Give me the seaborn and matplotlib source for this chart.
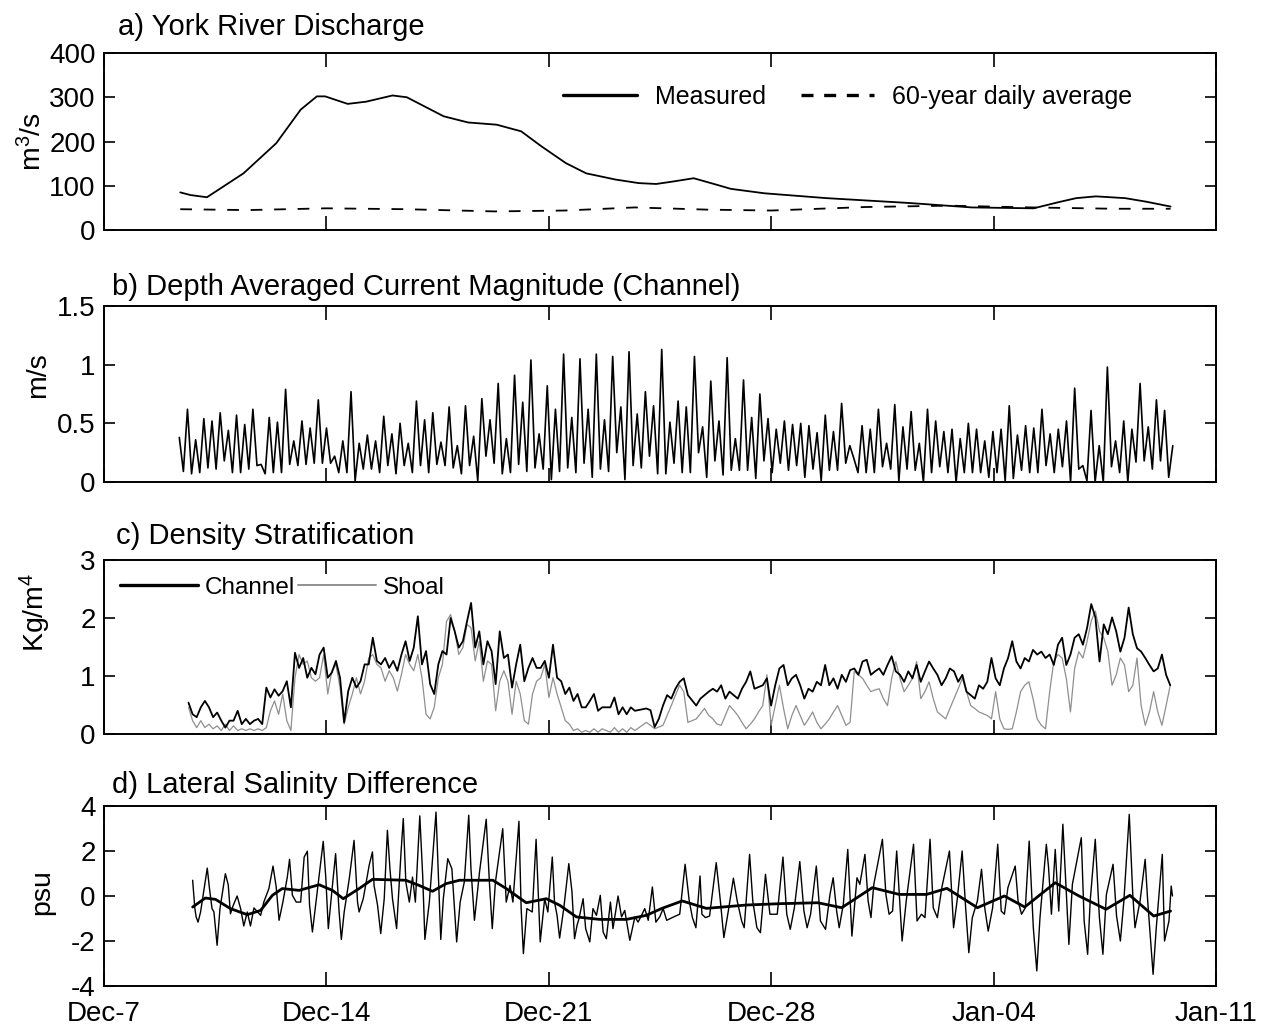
import numpy as np
import pandas as pd
import matplotlib
matplotlib.use("Agg")
import matplotlib.pyplot as plt
from matplotlib.lines import Line2D
import seaborn as sns

sns.set_theme(style="ticks", rc={
    "axes.edgecolor": "black", "xtick.color": "black", "ytick.color": "black",
    "text.color": "black", "axes.labelcolor": "black", "axes.linewidth": 1.4,
})
plt.rcParams["font.family"] = ["Liberation Sans", "DejaVu Sans"]
plt.rcParams["mathtext.fontset"] = "custom"
plt.rcParams["mathtext.rm"] = "Liberation Sans"
plt.rcParams["mathtext.it"] = "Liberation Sans:italic"
plt.rcParams["mathtext.bf"] = "Liberation Sans:bold"

# ---- time axis: days since Dec-7 ----
week_days = [0, 7, 14, 21, 28, 35]
week_labels = ["Dec-7", "Dec-14", "Dec-21", "Dec-28", "Jan-04", "Jan-11"]

# ---- a) York River discharge (m3/s) ----
q_day = [2.40, 2.72, 3.24, 4.39, 5.42, 6.19, 6.70, 6.96, 7.67, 8.25, 9.08, 9.53,
         10.69, 11.46, 12.36, 13.13, 13.77, 14.54, 15.18, 16.10, 16.83, 17.38,
         17.95, 18.56, 19.15, 19.73, 20.78, 22.74, 25.35, 27.31, 28.30, 29.26,
         30.05, 30.60, 31.22, 32.14, 32.80, 33.57]
q_measured = [85, 79, 74, 128, 196, 272, 302, 302, 285, 290, 304, 300,
              257, 243, 238, 223, 189, 151, 128, 114, 106, 104,
              110, 117, 105, 93, 83, 72, 61, 51, 50, 49,
              63, 72, 76, 72, 64, 53]
q_avg_day = [2.40, 4.5, 7.0, 9.5, 12.3, 14.5, 16.7, 19.0, 21.0, 24.0, 26.6,
             29.2, 31.8, 33.57]
q_average = [47, 45, 49, 47, 42, 44, 51, 46, 44, 52, 55, 51, 48, 48]

# ---- b) depth averaged current magnitude, channel (m/s), successive extrema ----
b_first_day, b_last_day = 2.37, 33.64
b_speed = [
    0.38, 0.09, 0.62, 0.07, 0.36, 0.08, 0.54, 0.12, 0.52, 0.11,
    0.59, 0.18, 0.44, 0.08, 0.57, 0.08, 0.49, 0.11, 0.62, 0.14,
    0.15, 0.07, 0.55, 0.08, 0.51, 0.08, 0.79, 0.15, 0.35, 0.14,
    0.52, 0.15, 0.46, 0.16, 0.70, 0.16, 0.46, 0.16, 0.22, 0.08,
    0.35, 0.08, 0.77, 0.01, 0.33, 0.11, 0.40, 0.11, 0.35, 0.08,
    0.56, 0.14, 0.41, 0.07, 0.50, 0.14, 0.33, 0.08, 0.69, 0.14,
    0.53, 0.08, 0.59, 0.15, 0.34, 0.14, 0.64, 0.12, 0.31, 0.07,
    0.65, 0.14, 0.39, 0.01, 0.71, 0.22, 0.53, 0.16, 0.84, 0.07,
    0.37, 0.08, 0.91, 0.15, 0.68, 0.09, 1.04, 0.12, 0.41, 0.11,
    0.82, 0.02, 0.62, 0.09, 1.09, 0.12, 0.55, 0.08, 1.05, 0.16,
    0.62, 0.04, 1.09, 0.11, 0.53, 0.09, 1.07, 0.25, 0.64, 0.02,
    1.11, 0.14, 0.58, 0.12, 0.77, 0.22, 0.65, 0.07, 1.13,
    0.07, 0.51, 0.16, 0.69, 0.08, 0.64, 0.08, 1.07, 0.25, 0.47,
    0.04, 0.86, 0.18, 0.52, 0.06, 1.06, 0.10, 0.37, 0.10, 0.87,
    0.10, 0.55, 0.03, 0.75, 0.18, 0.54, 0.08, 0.45, 0.16, 0.52,
    0.10, 0.49, 0.14, 0.50, 0.04, 0.48, 0.11, 0.42, 0.01, 0.57,
    0.10, 0.43, 0.10, 0.67, 0.16, 0.31, 0.20, 0.08, 0.48, 0.08,
    0.45, 0.08, 0.62, 0.13, 0.33, 0.11, 0.66, 0.01, 0.47, 0.11,
    0.60, 0.10, 0.33, 0.00, 0.62, 0.08, 0.52, 0.13, 0.43, 0.08,
    0.45, 0.00, 0.37, 0.08, 0.50, 0.08, 0.45, 0.08, 0.35, 0.04,
    0.43, 0.08, 0.45, 0.01, 0.65, 0.03, 0.40, 0.10, 0.48, 0.08,
    0.46, 0.08, 0.62, 0.14, 0.41, 0.08, 0.45, 0.13, 0.52, 0.00,
    0.80, 0.11, 0.14, 0.01, 0.61, 0.00, 0.31, 0.00, 0.98, 0.13,
    0.35, 0.08, 0.52, 0.00, 0.45, 0.17, 0.84, 0.18, 0.47, 0.11,
    0.70, 0.18, 0.61, 0.04, 0.31,
]

# ---- c) density stratification (kg/m4), two sampling blocks ----
c_block1 = (2.66, 16.71)
c_block2 = (17.07, 33.56)
c_channel_1 = [
    0.54, 0.34, 0.29, 0.46, 0.57, 0.46, 0.29, 0.37, 0.23, 0.11,
    0.23, 0.23, 0.40, 0.17, 0.26, 0.17, 0.23, 0.26, 0.17, 0.80,
    0.63, 0.77, 0.66, 0.74, 0.91, 0.46, 1.40, 1.14, 1.31, 0.97,
    1.14, 1.03, 1.37, 1.49, 0.97, 1.06, 1.26, 0.97, 0.20, 0.74,
    0.97, 0.80, 0.91, 1.20, 1.20, 1.66, 1.26, 1.20, 1.31, 1.14,
    1.26, 1.09, 1.37, 1.60, 1.26, 1.49, 2.03, 1.20, 1.43, 0.86,
    0.69, 1.20, 1.43, 1.37, 2.00, 1.77, 1.49, 1.60, 1.94, 2.26,
    1.49, 1.77, 1.20, 1.60, 1.43, 0.86, 1.77, 1.31, 1.37, 0.80,
    1.20, 1.54, 0.91, 1.14, 1.31, 1.14, 1.14, 1.26, 0.97, 1.54,
    0.97, 0.91, 0.69, 0.80, 0.57, 0.69, 0.46, 0.46, 0.57, 0.69,
    0.40, 0.46, 0.46, 0.46, 0.63, 0.34, 0.46, 0.34, 0.46, 0.40,
]
c_shoal_1 = [
    0.46, 0.23, 0.11, 0.23, 0.11, 0.17, 0.09, 0.14, 0.06, 0.17,
    0.06, 0.14, 0.06, 0.09, 0.06, 0.09, 0.06, 0.09, 0.06, 0.11,
    0.40, 0.57, 0.34, 0.69, 0.23, 0.06, 0.97, 1.37, 1.20, 1.26,
    0.97, 0.91, 0.97, 1.37, 0.69, 1.09, 1.20, 0.80, 0.17, 0.46,
    0.69, 0.97, 0.69, 0.91, 1.31, 1.37, 1.20, 1.14, 0.91, 1.09,
    0.97, 0.74, 1.03, 1.37, 1.20, 1.09, 1.37, 0.97, 0.34, 0.26,
    0.46, 0.97, 1.20, 1.94, 2.06, 1.77, 1.37, 1.49, 1.89, 1.83,
    1.26, 1.60, 0.91, 1.26, 1.20, 0.40, 0.91, 1.09, 0.91, 0.34,
    0.91, 0.69, 0.23, 0.17, 0.69, 0.91, 0.97, 1.20, 0.63, 0.97,
    0.69, 0.46, 0.23, 0.17, 0.06, 0.09, 0.03, 0.06, 0.03, 0.09,
    0.03, 0.09, 0.06, 0.03, 0.11, 0.03, 0.09, 0.03, 0.11, 0.06,
]
c_channel_2 = [
    0.44, 0.41, 0.12, 0.26, 0.49, 0.67, 0.61, 0.78, 0.90, 0.96,
    0.67, 0.58, 0.49, 0.61, 0.67, 0.73, 0.78, 0.73, 0.84, 0.61,
    0.73, 0.67, 0.61, 0.78, 0.90, 1.08, 0.78, 0.81, 0.84, 0.96,
    0.49, 0.84, 1.13, 1.19, 0.84, 0.96, 1.02, 0.84, 0.61, 0.78,
    0.73, 0.90, 0.84, 1.19, 0.84, 0.96, 0.78, 1.02, 0.90, 1.10,
    1.13, 1.02, 1.25, 1.28, 1.02, 1.08, 1.13, 1.02, 1.19, 1.34,
    1.08, 1.02, 0.90, 1.08, 0.96, 1.19, 0.90, 1.08, 1.25, 1.13,
    1.02, 0.84, 0.96, 1.13, 1.08, 0.90, 1.02, 0.73, 0.67, 0.61,
    0.84, 0.78, 0.90, 1.31, 0.96, 0.84, 1.13, 1.31, 1.60, 1.25,
    1.13, 1.31, 1.25, 1.45, 1.37, 1.42, 1.31, 1.37, 1.19, 1.54,
    1.66, 1.19, 1.37, 1.66, 1.72, 1.54, 1.83, 2.24, 2.01, 1.25,
    1.89, 1.72, 2.01, 1.77, 1.42, 1.66, 2.18, 1.72, 1.48, 1.42,
    1.31, 1.19, 1.08, 1.13, 1.37, 1.02, 0.84,
]
c_shoal_2 = [
    0.20, 0.15, 0.09, 0.12, 0.15, 0.32, 0.49, 0.67, 0.84, 0.73,
    0.20, 0.23, 0.26, 0.35, 0.44, 0.32, 0.26, 0.17, 0.15, 0.32,
    0.49, 0.41, 0.32, 0.20, 0.09, 0.17, 0.26, 0.38, 0.49, 1.02,
    0.15, 0.49, 0.84, 0.44, 0.09, 0.32, 0.49, 0.32, 0.15, 0.26,
    0.38, 0.20, 0.09, 0.17, 0.26, 0.38, 0.49, 0.32, 0.15, 0.20,
    1.08, 1.02, 0.96, 0.84, 0.73, 0.76, 0.78, 0.61, 0.49, 0.96,
    1.25, 0.96, 0.73, 0.84, 0.96, 1.25, 0.61, 0.73, 0.90, 0.61,
    0.38, 0.32, 0.26, 0.44, 0.61, 0.78, 0.96, 0.73, 0.49, 0.44,
    0.38, 0.35, 0.32, 0.26, 0.73, 0.26, 0.09, 0.08, 0.09, 0.38,
    0.73, 0.84, 0.90, 0.61, 0.26, 0.15, 0.09, 0.73, 1.25, 1.37,
    1.31, 0.96, 0.38, 1.13, 1.42, 1.31, 1.60, 1.95, 2.12, 1.77,
    1.66, 1.42, 0.84, 1.02, 1.31, 1.19, 0.73, 0.84, 1.31, 0.49,
    0.15, 0.38, 0.73, 0.38, 0.15, 0.49, 0.84,
]

# ---- d) lateral salinity difference (psu) ----
d_day = [
    2.79, 2.86, 2.90, 2.96, 3.04, 3.25, 3.32, 3.40, 3.46, 3.56, 3.65, 3.82, 3.91,
    3.98, 4.07, 4.19, 4.30, 4.40, 4.51, 4.61, 4.72, 4.79, 4.93, 5.03, 5.19, 5.32,
    5.42, 5.51, 5.63, 5.77, 5.84, 5.93, 6.05, 6.19, 6.30, 6.40, 6.47, 6.56, 6.66,
    6.82, 6.90, 6.98, 7.06, 7.19, 7.29, 7.40, 7.47, 7.56, 7.72, 7.87, 7.98, 8.03,
    8.16, 8.35, 8.45, 8.50, 8.61, 8.71, 8.82, 8.92, 9.00, 9.08, 9.21, 9.35, 9.42,
    9.50, 9.61, 9.71, 9.80, 9.94, 10.03, 10.10, 10.24, 10.45, 10.53, 10.60, 10.68,
    10.82, 10.95, 11.10, 11.21, 11.34, 11.48, 11.55, 11.66, 11.82, 12.03, 12.13,
    12.22, 12.32, 12.55, 12.66, 12.78, 12.87, 13.06, 13.13, 13.20, 13.31, 13.48,
    13.60, 13.69, 13.73, 13.87, 13.97, 14.11, 14.18, 14.26, 14.34, 14.47, 14.63,
    14.73, 14.81, 14.89, 14.95, 15.08, 15.16, 15.29, 15.39, 15.50, 15.62, 15.71,
    15.81, 15.94, 16.02, 16.18, 16.29, 16.39, 16.55, 16.71, 16.81, 16.92, 17.02,
    17.13, 17.26, 17.37, 17.49, 17.60, 17.71,
    17.99, 18.12, 18.29, 18.42, 18.52, 18.63, 18.76, 18.82, 18.93, 19.06, 19.27,
    19.40, 19.51, 19.65, 19.81, 19.93, 20.07, 20.15, 20.32, 20.42, 20.55, 20.66,
    20.82, 20.96, 21.09, 21.19, 21.37, 21.49, 21.60, 21.73, 21.90, 22.03, 22.13,
    22.24, 22.42, 22.55, 22.71, 22.85, 22.95, 23.06, 23.14, 23.27, 23.41, 23.54,
    23.70, 23.79, 23.95, 24.05, 24.14, 24.23, 24.50, 24.61, 24.71, 24.82, 24.95,
    25.12, 25.25, 25.48, 25.59, 25.73, 25.84, 26.00, 26.10, 26.23, 26.37, 26.61,
    26.74, 26.85, 27.01, 27.12, 27.22, 27.33, 27.49, 27.62, 27.72, 27.83, 27.97,
    28.13, 28.24, 28.34, 28.45, 28.68, 28.77, 28.88, 29.00, 29.12, 29.25, 29.36,
    29.46, 29.66, 29.73, 29.82, 29.94, 30.05, 30.18, 30.26, 30.37, 30.48, 30.76,
    30.85, 30.96, 31.04, 31.20, 31.33, 31.44, 31.55, 31.76, 31.87, 31.99, 32.10,
    32.27, 32.38, 32.45, 32.61, 32.77, 32.85, 33.02, 33.12, 33.31, 33.38, 33.52,
    33.59, 33.63,
]
d_salinity = [
    0.70, -0.56, -0.93, -1.16, -0.71, 1.24, 0.33, -0.56, -0.71, -2.19, -0.56, 0.99, 0.50,
    -0.79, -0.41, 0.00, -0.56, -1.33, -0.71, -1.33, -0.53, -0.64, -0.86, -0.27, 0.33, 1.33,
    0.40, -1.08, -0.27, 0.84, 1.63, 0.03, -0.27, -0.27, 1.73, 1.99, -0.41, -1.60, -0.41,
    1.51, 2.43, 0.84, -1.45, 0.47, 1.88, -0.71, -1.93, -0.71, 0.77, 2.47, -0.27, -0.71,
    -0.12, 1.39, 1.96, 0.47, -0.41, -1.67, -0.12, 2.92, 1.21, -0.12, -1.45, 1.96, 3.44,
    0.62, -0.27, 0.84, -0.27, 3.56, 0.92, -1.93, -0.27, 3.73, 0.77, -1.93, -0.12,
    1.66, 1.21, -2.04, -0.27, 0.62, 3.59, 1.21, -1.08, 1.07, 3.41, 0.62,
    -1.45, 0.62, 2.99, -0.27, 0.47, -0.27, 3.32, -0.56, -2.56, -0.56, -0.71,
    2.52, -0.71, -2.04, -0.12, -0.71, 1.73, -0.27, -0.86, -1.87, -0.56, 1.44,
    0.18, -1.90, -1.30, -1.01, -0.12, -1.45, -2.04, -0.56, -0.86, 0.03, -1.60,
    -1.90, -0.27, -1.45, 0.00, -0.93, -0.64, -1.97, -0.93, -1.16, -0.86, -0.56,
    -1.08, 0.40, -1.16, -0.93, -0.56, -1.08,
    -0.89, -0.81, 1.41, -0.22, -0.96, -1.41, 0.89, -0.81, -0.96, -0.89, 1.48,
    -0.22, -1.85, -0.67, 0.79, -0.22, -1.11, -1.41, 1.85, -0.22, -1.41, -1.63,
    0.96, -0.81, -0.81, -0.81, 1.73, -0.81, -1.48, -0.52, 1.53, -0.67, -1.41,
    -0.81, 1.33, -1.11, -1.48, 0.07, 0.81, -0.67, -1.41, -0.37, 2.07, -1.78,
    0.81, 0.52, 1.85, -0.22, -0.96, 0.52, 2.52, 0.07, -0.81, -0.67, 2.00,
    -2.00, -0.22, 2.30, -1.11, -0.81, -0.96, 2.52, -0.52, -0.96, 0.37, 2.00,
    -1.41, -0.22, 2.00, -0.52, -2.52, -0.96, -0.22, 1.19, -0.52, -1.56, -0.52,
    2.30, -0.67, -0.81, 0.37, 1.33, -0.22, -0.81, -0.52, 2.44, -1.41, -3.33,
    -0.96, 2.30, 1.26, -0.81, 2.07, -0.67, 3.19, 0.96, -2.15, 0.52, 2.59,
    -1.11, -2.59, -0.22, 2.52, -0.96, -2.59, 0.07, 1.41, -0.89, -2.00, -0.22,
    3.63, 0.07, -1.41, -0.22, 1.63, -0.22, -3.48, -1.41, 1.85, -2.00, -1.11,
    0.44, 0.00,
]
d_lowpass_day = [2.79, 3.19, 3.51, 3.98, 4.51, 4.93, 5.30, 5.61, 6.14, 6.77, 7.19,
                 7.53, 8.03, 8.45, 9.50, 9.92, 10.34, 10.77, 11.19, 12.24, 12.66,
                 13.29, 13.92, 14.34, 14.87, 15.60, 16.44, 17.07, 17.56, 18.20,
                 18.96, 20.23, 21.30, 22.47, 23.22, 24.18, 25.03, 25.89, 26.53,
                 27.49, 28.34, 28.98, 29.94, 30.69, 31.54, 32.29, 33.04, 33.57]
d_lowpass = [-0.49, -0.09, -0.15, -0.56, -0.83, -0.64, 0.03, 0.33, 0.25, 0.50, 0.25,
             -0.12, 0.33, 0.74, 0.70, 0.47, 0.21, 0.55, 0.70, 0.70, 0.33,
             -0.30, -0.12, -0.41, -0.93, -1.04, -1.04, -0.86, -0.55, -0.22,
             -0.55, -0.40, -0.34, -0.30, -0.52, 0.37, 0.07, 0.07, 0.34,
             -0.52, 0.00, -0.49, 0.59, 0.00, -0.59, 0.03, -0.89, -0.67]

# ---- assemble tidy frames ----
b_day = np.linspace(b_first_day, b_last_day, len(b_speed))
c_day = np.concatenate([np.linspace(*c_block1, len(c_channel_1)),
                        np.linspace(*c_block2, len(c_channel_2))])
df_c = pd.DataFrame({"day": c_day,
                     "Channel": c_channel_1 + c_channel_2,
                     "Shoal": c_shoal_1 + c_shoal_2})

FS = 20
W, H = 1271, 1027
fig = plt.figure(figsize=(W / 100, H / 100), dpi=100)


def rect(top, bottom, left=104, right=1216):
    return [left / W, 1 - bottom / H, (right - left) / W, (bottom - top) / H]


ax_a = fig.add_axes(rect(53, 230))
ax_b = fig.add_axes(rect(306, 482))
ax_c = fig.add_axes(rect(560, 734))
ax_d = fig.add_axes(rect(806, 986))

# a) discharge
sns.lineplot(x=q_day, y=q_measured, ax=ax_a, color="black", linewidth=1.3,
             estimator=None, sort=False)
sns.lineplot(x=q_avg_day, y=q_average, ax=ax_a, color="black", linewidth=1.3,
             estimator=None, sort=False, dashes=False)
ax_a.lines[-1].set_dashes((6.5, 6.5))
h_meas = Line2D([], [], color="black", linewidth=2.4)
h_avg = Line2D([], [], color="black", linewidth=2.4, dashes=(3.6, 3.2))
ax_a.legend([h_meas, h_avg], ["Measured", "60-year daily average"],
            loc="center left", bbox_to_anchor=(0.413, 0.752), ncol=2,
            frameon=False, fontsize=18, handlelength=2.95, handletextpad=0.7,
            columnspacing=1.4, borderpad=0, borderaxespad=0)

# b) current magnitude
sns.lineplot(x=b_day, y=b_speed, ax=ax_b, color="black", linewidth=1.2,
             estimator=None, sort=False)

# c) stratification
sns.lineplot(data=df_c, x="day", y="Shoal", ax=ax_c, color="#8f8f8f",
             linewidth=0.9, estimator=None, sort=False)
sns.lineplot(data=df_c, x="day", y="Channel", ax=ax_c, color="black",
             linewidth=1.3, estimator=None, sort=False)
h_ch = Line2D([], [], color="black", linewidth=2.4)
h_sh = Line2D([], [], color="#8f8f8f", linewidth=1.4)
ax_c.legend([h_ch, h_sh], ["Channel", "Shoal"], loc="center left",
            bbox_to_anchor=(0.0144, 0.84), ncol=2, frameon=False, fontsize=17.5,
            handlelength=3.2, handletextpad=0.3, columnspacing=0.1,
            borderpad=0, borderaxespad=0)

# d) salinity difference
sns.lineplot(x=d_day, y=d_salinity, ax=ax_d, color="black", linewidth=1.0,
             estimator=None, sort=False)
sns.lineplot(x=d_lowpass_day, y=d_lowpass, ax=ax_d, color="black", linewidth=2.0,
             estimator=None, sort=False)

# ---- axes styling ----
specs = [
    (ax_a, (0, 400), [0, 100, 200, 300, 400], ["0", "100", "200", "300", "400"],
     "m$^3$/s", (-0.051, 0.50), "a) York River Discharge", (118, 27)),
    (ax_b, (0, 1.5), [0, 0.5, 1, 1.5], ["0", "0.5", "1", "1.5"],
     "m/s", (-0.048, 0.61), "b) Depth Averaged Current Magnitude (Channel)", (112, 287)),
    (ax_c, (0, 3), [0, 1, 2, 3], ["0", "1", "2", "3"],
     "Kg/m$^4$", (-0.046, 0.70), "c) Density Stratification", (116, 536)),
    (ax_d, (-4, 4), [-4, -2, 0, 2, 4], ["-4", "-2", "0", "2", "4"],
     "psu", (-0.044, 0.52), "d) Lateral Salinity Difference", (112, 785)),
]
for ax, ylim, yt, ytl, ylab, lab_xy, title, title_xy in specs:
    ax.set_xlim(0, 35)
    ax.set_ylim(*ylim)
    ax.set_xticks(week_days)
    ax.set_yticks(yt)
    ax.set_yticklabels(ytl)
    ax.set_xlabel("")
    ax.set_ylabel(ylab, fontsize=20.5)
    ax.yaxis.set_label_coords(*lab_xy)
    ax.tick_params(axis="both", direction="in", top=True, right=True,
                   labelsize=FS, width=1.2, colors="black")
    ax.tick_params(axis="x", length=10, pad=10.5, labelsize=20)
    ax.tick_params(axis="y", length=8, pad=6)
    for s in ax.spines.values():
        s.set_visible(True)
        s.set_linewidth(1.4)
        s.set_color("black")
    if ax is ax_d:
        ax.set_xticklabels(week_labels)
    else:
        ax.tick_params(axis="x", labelbottom=False)
    fig.text(title_xy[0] / W, 1 - title_xy[1] / H, title, fontsize=21,
             ha="left", va="center")

fig.savefig("out.png", dpi=100)
